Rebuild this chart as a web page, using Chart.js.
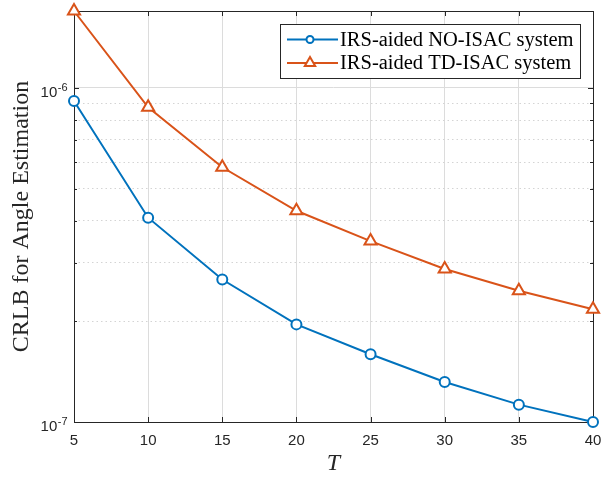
<!DOCTYPE html>
<html>
<head>
<meta charset="utf-8">
<script src="https://cdn.jsdelivr.net/npm/chart.js@4/dist/chart.umd.min.js"></script>
<style>
html,body{margin:0;padding:0;background:#fff;}
#wrap{position:relative;width:602px;height:478px;}
</style>
</head>
<body>
<div id="wrap"><canvas id="c" width="602" height="478"></canvas></div>
<script>
// ---- data ----
const T = [5, 10, 15, 20, 25, 30, 35, 40];
const noIsac = [9.14e-7, 4.09e-7, 2.67e-7, 1.96e-7, 1.595e-7, 1.318e-7, 1.127e-7, 1.0e-7];
const tdIsac = [1.70e-6, 8.75e-7, 5.79e-7, 4.29e-7, 3.48e-7, 2.87e-7, 2.47e-7, 2.175e-7];
const seriesLabels = ['IRS-aided NO-ISAC system', 'IRS-aided TD-ISAC system'];
const xTicks = [5, 10, 15, 20, 25, 30, 35, 40];
const yMajorTicks = [1e-7, 1e-6];
const yTickBase = ['10', '10'];
const yTickExp = ['-7', '-6'];
const yMinorTicks = [2e-7, 3e-7, 4e-7, 5e-7, 6e-7, 7e-7, 8e-7, 9e-7];
const yLimits = [1e-7, 1.7e-6];
const xLimits = [5, 40];
const xTitle = 'T';
const yTitle = 'CRLB for Angle Estimation';

const AX = '#262626';
const GRID = '#dcdcdc';
const MINOR = '#d4d4d4';

const isMajor = v => yMajorTicks.some(m => Math.abs(m - v) / m < 1e-6);

function drawMarker(ctx, style, x, y, r, color) {
  ctx.save();
  ctx.strokeStyle = color;
  ctx.fillStyle = '#fff';
  ctx.lineWidth = 2;
  ctx.beginPath();
  if (style === 'circle') {
    ctx.arc(x, y, r, 0, Math.PI * 2);
  } else {
    for (let k = 0; k < 3; k++) {
      const a = k * 2 * Math.PI / 3;
      const px = x + Math.sin(a) * r, py = y - Math.cos(a) * r;
      if (k === 0) ctx.moveTo(px, py); else ctx.lineTo(px, py);
    }
    ctx.closePath();
  }
  ctx.fill();
  ctx.stroke();
  ctx.restore();
}

const framePlugin = {
  id: 'frame',
  beforeDatasetsDraw(chart) {
    const {ctx, chartArea: a, scales} = chart;
    const xs = scales.x, ys = scales.y;
    ctx.save();
    ctx.strokeStyle = AX;
    ctx.lineWidth = 1;
    // inward ticks x
    xTicks.forEach(v => {
      const px = Math.round(xs.getPixelForValue(v)) + 0.5;
      ctx.beginPath();
      ctx.moveTo(px, a.bottom); ctx.lineTo(px, a.bottom - 5);
      ctx.moveTo(px, a.top); ctx.lineTo(px, a.top + 5);
      ctx.stroke();
    });
    // inward ticks y
    yMajorTicks.concat(yMinorTicks).forEach(v => {
      const py = Math.round(ys.getPixelForValue(v)) + 0.5;
      const len = isMajor(v) ? 5 : 3;
      ctx.beginPath();
      ctx.moveTo(a.left, py); ctx.lineTo(a.left + len, py);
      ctx.moveTo(a.right, py); ctx.lineTo(a.right - len, py);
      ctx.stroke();
    });
    // box
    ctx.strokeRect(Math.round(a.left) + 0.5, Math.round(a.top) + 0.5,
      Math.round(a.right - a.left), Math.round(a.bottom - a.top));
    // y tick labels with superscript
    ctx.fillStyle = AX;
    ctx.textBaseline = 'alphabetic';
    ctx.textAlign = 'left';
    yMajorTicks.forEach((v, i) => {
      const py = ys.getPixelForValue(v);
      ctx.font = '15px "Liberation Sans", Arial, sans-serif';
      const wb = ctx.measureText(yTickBase[i]).width;
      ctx.font = '11px "Liberation Sans", Arial, sans-serif';
      const we = ctx.measureText(yTickExp[i]).width;
      const x0 = a.left - 7 - wb - we;
      ctx.font = '15px "Liberation Sans", Arial, sans-serif';
      ctx.fillText(yTickBase[i], x0, py + 9);
      ctx.font = '11px "Liberation Sans", Arial, sans-serif';
      ctx.fillText(yTickExp[i], x0 + wb + 0.5, py + 3);
    });
    ctx.restore();
  },
  afterDatasetsDraw(chart) {
    const {ctx, chartArea: a} = chart;
    const bw = 300, bh = 54;
    const bx = Math.round(a.right - 13 - bw), by = Math.round(a.top + 13);
    ctx.save();
    ctx.fillStyle = '#fff';
    ctx.fillRect(bx, by, bw, bh);
    ctx.strokeStyle = AX;
    ctx.lineWidth = 1;
    ctx.strokeRect(bx + 0.5, by + 0.5, bw, bh);
    chart.data.datasets.forEach((ds, i) => {
      const yy = by + 15.5 + i * 23.5;
      ctx.strokeStyle = ds.borderColor;
      ctx.lineWidth = 2;
      ctx.beginPath();
      ctx.moveTo(bx + 7, yy); ctx.lineTo(bx + 58, yy);
      ctx.stroke();
      drawMarker(ctx, ds.pointStyle, bx + 30, yy, ds.pointStyle === 'circle' ? 3.5 : 6, ds.borderColor);
      ctx.fillStyle = '#000';
      ctx.font = '20.5px "Liberation Serif", "Times New Roman", serif';
      ctx.textBaseline = 'middle';
      ctx.textAlign = 'left';
      ctx.fillText(ds.label, bx + 60, yy + 1);
    });
    ctx.restore();
  }
};

new Chart(document.getElementById('c'), {
  type: 'line',
  data: {
    datasets: [
      {
        label: seriesLabels[0],
        data: T.map((t, i) => ({x: t, y: noIsac[i]})),
        borderColor: '#0072BD',
        backgroundColor: '#ffffff',
        pointStyle: 'circle',
        pointRadius: 5,
        pointBorderWidth: 2,
        borderWidth: 2,
        tension: 0,
        clip: false
      },
      {
        label: seriesLabels[1],
        data: T.map((t, i) => ({x: t, y: tdIsac[i]})),
        borderColor: '#D95319',
        backgroundColor: '#ffffff',
        pointStyle: 'triangle',
        pointRadius: 7,
        pointBorderWidth: 2,
        borderWidth: 2,
        tension: 0,
        clip: false
      }
    ]
  },
  options: {
    responsive: false,
    animation: false,
    layout: {padding: {top: 11, right: 7, bottom: 0, left: 0}},
    plugins: {legend: {display: false}, tooltip: {enabled: false}},
    scales: {
      x: {
        type: 'linear',
        min: xLimits[0], max: xLimits[1],
        afterBuildTicks: s => { s.ticks = xTicks.map(v => ({value: v})); },
        afterFit: s => { s.height = 56; s.paddingLeft = 0; s.paddingRight = 0; },
        grid: {color: GRID, lineWidth: 1, drawTicks: false},
        border: {display: false},
        ticks: {
          color: AX, padding: 10, maxRotation: 0,
          font: {family: '"Liberation Sans", Arial, sans-serif', size: 15}
        },
        title: {
          display: true, text: xTitle, color: AX,
          font: {family: '"Liberation Serif", "Times New Roman", serif', size: 24, style: 'italic', lineHeight: 1.2},
          padding: {top: 0, bottom: 0}
        }
      },
      y: {
        type: 'logarithmic',
        min: yLimits[0], max: yLimits[1],
        afterBuildTicks: s => {
          s.ticks = yMajorTicks.concat(yMinorTicks).sort((p, q) => p - q).map(v => ({value: v, major: isMajor(v)}));
        },
        afterFit: s => { s.width = 74; s.paddingTop = 0; s.paddingBottom = 0; },
        grid: {
          color: c => (c.tick && !isMajor(c.tick.value)) ? MINOR : GRID,
          lineWidth: 1, drawTicks: false
        },
        border: {
          display: false,
          dash: c => (c.tick && !isMajor(c.tick.value)) ? [1.5, 3] : []
        },
        ticks: {display: false},
        title: {
          display: true, text: yTitle, color: AX,
          font: {family: '"Liberation Serif", "Times New Roman", serif', size: 24, lineHeight: 1.2},
          padding: {top: 7, bottom: 0}
        }
      }
    }
  },
  plugins: [framePlugin]
});
</script>
</body>
</html>
